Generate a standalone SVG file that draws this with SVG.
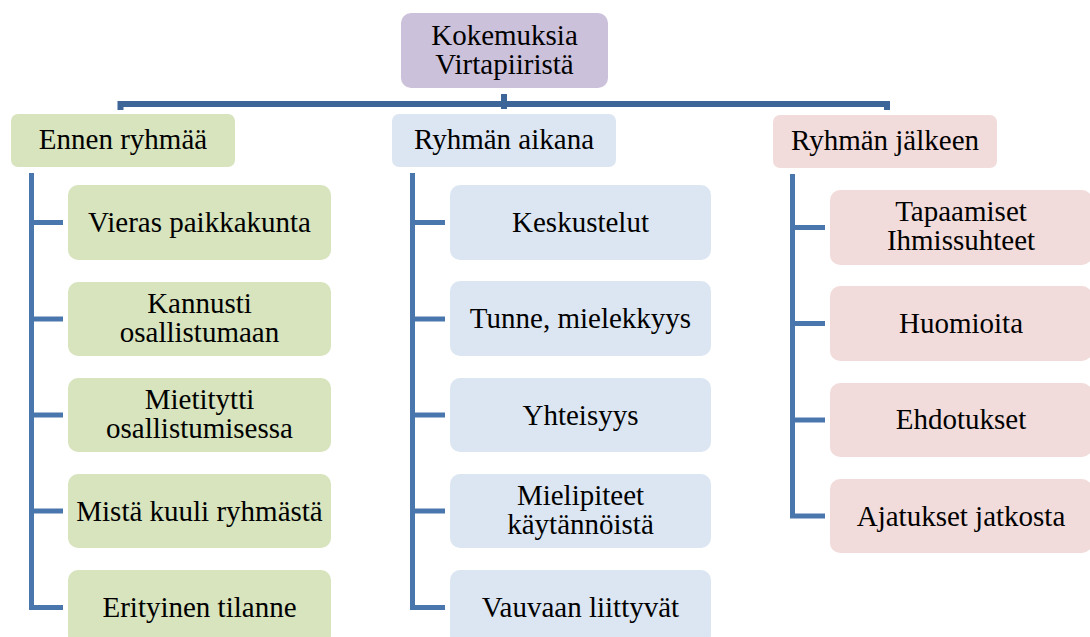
<svg xmlns="http://www.w3.org/2000/svg" width="1090" height="637" viewBox="0 0 1090 637">
<style>
text{font-size:29px;fill:#000;text-anchor:middle}
.g{fill:#d7e4bd}.b{fill:#dce6f2}.p{fill:#f2dcdb}.v{fill:#ccc1da}
.ln{fill:none;stroke:#4a76ae;stroke-width:5;stroke-linejoin:miter}
.bar{fill:none;stroke:#3e6597;stroke-width:6}
</style>
<rect width="1090" height="637" fill="#fff"/>
<g id="connectors">
<path class="bar" d="M120.5 110 V104 H887 V110"/>
<rect x="501" y="94" width="6" height="15" fill="#3e6597"/>
<path class="ln" d="M31.5 173 V607.5 H63 M31.5 222.5 H63 M31.5 319 H63 M31.5 415 H63 M31.5 511 H63"/>
<path class="ln" d="M412.5 173 V607.5 H445 M412.5 222.5 H445 M412.5 319 H445 M412.5 415 H445 M412.5 511 H445"/>
<path class="ln" d="M792.5 174 V516 H825 M792.5 227.5 H825 M792.5 323.5 H825 M792.5 420 H825"/>
</g>
<g font-family="Liberation Serif, Tinos, Times New Roman, DejaVu Serif, Noto Serif, serif">
<g id="root"><rect class="v" x="401" y="13" width="207" height="75" rx="10"/><text x="504.5" y="45">Kokemuksia</text><text x="504.5" y="74">Virtapiiristä</text></g>
<g id="ennen"><rect class="g" x="11" y="114" width="224" height="53" rx="7"/><text x="123" y="149">Ennen ryhmää</text></g>
<g id="aikana"><rect class="b" x="392" y="114" width="224" height="53" rx="7"/><text x="504" y="149">Ryhmän aikana</text></g>
<g id="jalkeen"><rect class="p" x="773" y="115" width="224" height="53" rx="7"/><text x="885" y="150">Ryhmän jälkeen</text></g>
<g id="vieras"><rect class="g" x="68" y="185" width="263" height="75" rx="10"/><text x="199.5" y="232">Vieras paikkakunta</text></g>
<g id="kannusti"><rect class="g" x="68" y="282" width="263" height="74" rx="10"/><text x="199.5" y="313">Kannusti</text><text x="199.5" y="342">osallistumaan</text></g>
<g id="mietitytti"><rect class="g" x="68" y="378" width="263" height="74" rx="10"/><text x="199.5" y="409">Mietitytti</text><text x="199.5" y="438">osallistumisessa</text></g>
<g id="mista"><rect class="g" x="68" y="474" width="263" height="74" rx="10"/><text x="199.5" y="521">Mistä kuuli ryhmästä</text></g>
<g id="erityinen"><rect class="g" x="68" y="570" width="263" height="75" rx="10"/><text x="199.5" y="617">Erityinen tilanne</text></g>
<g id="keskustelut"><rect class="b" x="450" y="185" width="261" height="75" rx="10"/><text x="580.5" y="232">Keskustelut</text></g>
<g id="tunne"><rect class="b" x="450" y="281" width="261" height="75" rx="10"/><text x="580.5" y="328">Tunne, mielekkyys</text></g>
<g id="yhteisyys"><rect class="b" x="450" y="378" width="261" height="74" rx="10"/><text x="580.5" y="425">Yhteisyys</text></g>
<g id="mielipiteet"><rect class="b" x="450" y="474" width="261" height="74" rx="10"/><text x="580.5" y="505">Mielipiteet</text><text x="580.5" y="534">käytännöistä</text></g>
<g id="vauvaan"><rect class="b" x="450" y="570" width="261" height="75" rx="10"/><text x="580.5" y="617">Vauvaan liittyvät</text></g>
<g id="tapaamiset"><rect class="p" x="830" y="190" width="262" height="75" rx="10"/><text x="961" y="221">Tapaamiset</text><text x="961" y="250">Ihmissuhteet</text></g>
<g id="huomioita"><rect class="p" x="830" y="286" width="262" height="75" rx="10"/><text x="961" y="333">Huomioita</text></g>
<g id="ehdotukset"><rect class="p" x="830" y="383" width="262" height="74" rx="10"/><text x="961" y="429">Ehdotukset</text></g>
<g id="ajatukset"><rect class="p" x="830" y="479" width="262" height="74" rx="10"/><text x="961" y="526">Ajatukset jatkosta</text></g>
</g>
</svg>
